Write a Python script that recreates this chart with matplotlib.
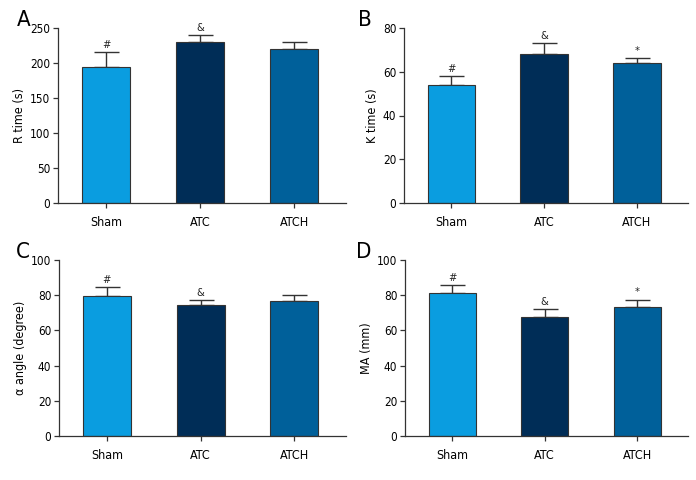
import matplotlib
matplotlib.use("Agg")
import matplotlib.pyplot as plt
import numpy as np

groups = ["Sham", "ATC", "ATCH"]
colors = ["#0A9DE0", "#002D57", "#00609A"]

# mean and upper error (SD) for each panel
r_time = [195, 230, 219.5]
r_err = [20, 10, 10.5]
k_time = [53.8, 68.3, 63.8]
k_err = [4.2, 5.0, 2.6]
alpha_angle = [79.7, 74.2, 76.5]
alpha_err = [5.0, 2.9, 3.4]
ma = [81.1, 67.6, 73.3]
ma_err = [4.7, 4.7, 4.2]

marks_a = ["#", "&", ""]
marks_b = ["#", "&", "*"]
marks_c = ["#", "&", ""]
marks_d = ["#", "&", "*"]

plt.rcParams['font.family'] = ['DejaVu Sans']
plt.rcParams['font.stretch'] = 'condensed'

fig = plt.figure(figsize=(6.96, 4.80), dpi=100)

# (letter, axes rect, values, errors, marks, ylabel, ymax, tick step, letter offset px)
panels = [
    ("A", [58/696, 1-203/480, 288/696, 175/480], r_time, r_err, marks_a, "R time (s)", 250, 50, 34),
    ("B", [404/696, 1-203/480, 284/696, 175/480], k_time, k_err, marks_b, "K time (s)", 80, 20, 39),
    ("C", [59/696, 1-436/480, 287/696, 176/480], alpha_angle, alpha_err, marks_c, "α angle (degree)", 100, 20, 36),
    ("D", [405/696, 1-436/480, 283/696, 176/480], ma, ma_err, marks_d, "MA (mm)", 100, 20, 41),
]

x = np.arange(len(groups))
edge = "#333333"

for letter, rect, vals, errs, marks, ylabel, ymax, step, off in panels:
    ax = fig.add_axes(rect)
    ax.bar(x, vals, width=0.51, color=colors, edgecolor=edge, linewidth=0.8, zorder=2)
    ax.errorbar(x, vals, yerr=[np.zeros(3), errs], fmt="none", ecolor=edge,
                elinewidth=1.0, capsize=9, capthick=1.0, zorder=1)
    for xi, v, e, m in zip(x, vals, errs, marks):
        if m:
            ax.text(xi, v + e + ymax * 0.012, m, ha="center", va="bottom", fontsize=8, color="#222222")
    ax.set_xlim(-0.51, 2.55)
    ax.set_ylim(0, ymax)
    ax.set_yticks(np.arange(0, ymax + 1, step))
    ax.set_xticks(x)
    ax.set_xticklabels(groups)
    ax.set_ylabel(ylabel, fontsize=9, labelpad=3)
    for s in ["top", "right"]:
        ax.spines[s].set_visible(False)
    for s in ["left", "bottom"]:
        ax.spines[s].set_color(edge)
        ax.spines[s].set_linewidth(0.9)
    ax.tick_params(axis="y", direction="out", length=3.5, width=0.9, color=edge,
                   labelsize=8.5, pad=2)
    ax.tick_params(axis="x", direction="out", length=3.5, width=0.9, color=edge,
                   labelsize=9, pad=6)
    fig.text(rect[0] - off/696, rect[1] + rect[3] + 8/480, letter, fontsize=16,
             ha="center", va="center")

fig.savefig("out.png", dpi=100)
